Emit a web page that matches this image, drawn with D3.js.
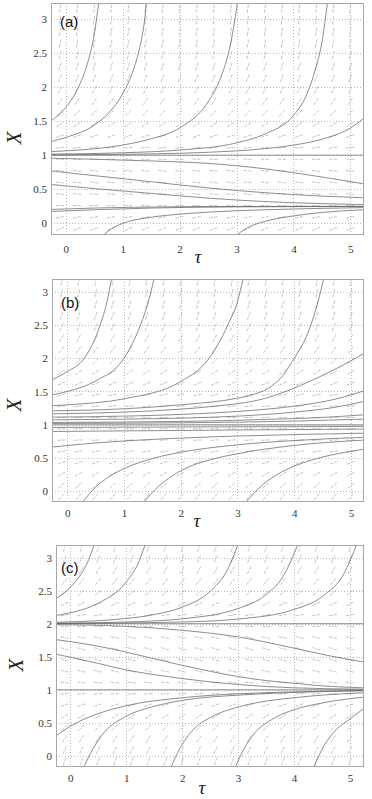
<!DOCTYPE html>
<html>
<head>
<meta charset="utf-8">
<script src="https://cdn.jsdelivr.net/npm/d3@7"></script>
<style>
  body { margin: 0; background: #fff; }
  svg { display: block; }
  .tick text { font-family: "Liberation Serif", "Times New Roman", serif; }
</style>
</head>
<body>
<div id="chart"></div>
<script>
// tick values and labels
const tauTicks = [0, 1, 2, 3, 4, 5];
const xTicks = [0, 0.5, 1, 1.5, 2, 2.5, 3];
const xTickLabels = ["0", "0.5", "1", "1.5", "2", "2.5", "3"];

// direction field grid (columns in tau, rows in X)
const fieldTau = [-0.1, 0.2, 0.5, 0.8, 1.1, 1.4, 1.7, 2.0, 2.3, 2.6, 2.9, 3.2, 3.5, 3.8, 4.1, 4.4, 4.7, 5.0];
const fieldX = [-0.08, 0.09, 0.26, 0.43, 0.6, 0.77, 0.94, 1.11, 1.28, 1.45, 1.62, 1.79, 1.96, 2.13, 2.3, 2.47, 2.64, 2.81, 2.98, 3.15];

// slope dX/dtau read for each row of the field
const slopesA = [0.36, 0.15, -0.01, -0.08, -0.1, -0.09, -0.03, 0.1, 0.29, 0.54, 0.85, 1.22, 1.64, 2.12, 2.67, 3.26, 3.92, 4.63, 5.4, 6.24];
const slopesB = [1.05, 0.75, 0.49, 0.29, 0.14, 0.05, 0.003, 0.011, 0.07, 0.18, 0.35, 0.56, 0.83, 1.15, 1.52, 1.94, 2.42, 2.95, 3.53, 4.16];
const slopesC = [2.25, 1.74, 1.29, 0.89, 0.56, 0.28, 0.06, -0.1, -0.2, -0.25, -0.24, -0.17, -0.04, 0.15, 0.39, 0.69, 1.05, 1.47, 1.94, 2.47];

// solution curves, [tau, X]
const curvesA = [
  [[-0.26, 1.5], [0, 1.7], [0.2, 1.96], [0.4, 2.4], [0.5, 2.77], [0.58, 3.25]],
  [[-0.26, 1.2], [0, 1.26], [0.5, 1.44], [0.8, 1.66], [1.0, 1.9], [1.2, 2.28], [1.3, 2.58], [1.38, 2.95], [1.42, 3.25]],
  [[-0.26, 1.052], [0, 1.063], [1, 1.148], [1.5, 1.24], [2, 1.4], [2.5, 1.78], [2.7, 2.09], [2.9, 2.65], [3.02, 3.25]],
  [[-0.26, 1.015], [1, 1.035], [2, 1.075], [3, 1.18], [3.5, 1.31], [4, 1.58], [4.2, 1.83], [4.4, 2.3], [4.5, 2.65], [4.6, 3.25]],
  [[-0.26, 1.005], [1, 1.013], [2, 1.028], [3, 1.063], [3.5, 1.095], [4, 1.147], [4.5, 1.234], [5, 1.397], [5.24, 1.54]],
  [[-0.26, 1.0], [5.24, 1.0]],
  [[-0.26, 0.955], [0.5, 0.94], [1.5, 0.915], [2.5, 0.88], [3.5, 0.8], [4.5, 0.68], [5.24, 0.58]],
  [[-0.26, 0.77], [0.5, 0.7], [1.5, 0.61], [2.5, 0.52], [3.5, 0.45], [4.5, 0.4], [5.24, 0.375]],
  [[-0.26, 0.57], [0.5, 0.51], [1.5, 0.44], [2.5, 0.37], [3.5, 0.32], [4.5, 0.29], [5.24, 0.275]],
  [[-0.26, 0.205], [0.5, 0.225], [1.5, 0.24], [3, 0.248], [5.24, 0.25]],
  [[-0.26, 0.175], [0.5, 0.2], [1.5, 0.225], [3, 0.242], [5.24, 0.248]],
  [[0.66, -0.17], [0.8, -0.08], [1, 0.0], [1.5, 0.09], [2, 0.135], [2.5, 0.165], [3.5, 0.2], [4.5, 0.22], [5.24, 0.232]],
  [[3.0, -0.17], [3.2, -0.06], [3.5, 0.03], [4, 0.11], [4.5, 0.16], [5.24, 0.2]]
];

const curvesB = [
  [[-0.27, 1.675], [0, 1.8], [0.3, 2.0], [0.58, 2.5], [0.7, 2.85], [0.78, 3.2]],
  [[-0.27, 1.45], [0, 1.5], [0.5, 1.66], [1, 2.0], [1.29, 2.5], [1.43, 2.85], [1.53, 3.2]],
  [[-0.27, 1.285], [0, 1.3], [1, 1.39], [2, 1.65], [2.5, 2.0], [2.83, 2.5], [3.0, 2.85], [3.1, 3.2]],
  [[-0.27, 1.21], [1, 1.24], [2, 1.3], [3, 1.4], [3.3, 1.46], [3.6, 1.58], [3.8, 1.74], [4, 2.0], [4.26, 2.42], [4.42, 2.85], [4.52, 3.2]],
  [[-0.27, 1.165], [1, 1.19], [2, 1.235], [2.55, 1.275], [3.5, 1.4], [4.32, 1.67], [4.8, 1.87], [5.23, 2.07]],
  [[-0.27, 1.115], [1, 1.13], [2, 1.155], [3, 1.2], [4, 1.28], [4.7, 1.38], [5.23, 1.51]],
  [[-0.27, 1.075], [1, 1.085], [2, 1.1], [3, 1.13], [4, 1.19], [4.7, 1.26], [5.23, 1.35]],
  [[-0.27, 1.035], [2, 1.05], [3.5, 1.08], [4.5, 1.11], [5.23, 1.15]],
  [[-0.27, 1.02], [2, 1.03], [4, 1.055], [5.23, 1.085]],
  [[-0.27, 1.0], [5.23, 1.0]],
  [[-0.27, 0.96], [2, 0.967], [5.23, 0.975]],
  [[-0.27, 0.9], [1, 0.908], [2, 0.915], [3, 0.922], [4, 0.928], [5.23, 0.935]],
  [[-0.27, 0.665], [0.5, 0.727], [1, 0.757], [2, 0.8], [3, 0.831], [4, 0.853], [5.23, 0.874]],
  [[0.27, -0.16], [0.5, 0.065], [0.75, 0.227], [1, 0.342], [1.5, 0.493], [2, 0.587], [3, 0.699], [4, 0.763], [5.23, 0.812]],
  [[1.35, -0.16], [1.6, 0.07], [1.85, 0.23], [2, 0.31], [2.5, 0.47], [3, 0.565], [4, 0.69], [5.23, 0.77]],
  [[3.15, -0.16], [3.4, 0.065], [3.65, 0.227], [3.9, 0.342], [4.4, 0.493], [4.9, 0.587], [5.23, 0.635]]
];

const curvesC = [
  [[-0.26, 2.38], [0, 2.55], [0.2, 2.76], [0.3, 2.91], [0.43, 3.2]],
  [[-0.26, 2.124], [0, 2.165], [0.5, 2.31], [1, 2.63], [1.2, 2.89], [1.34, 3.2]],
  [[-0.26, 2.0215], [1, 2.079], [1.5, 2.138], [2, 2.25], [2.5, 2.49], [2.8, 2.8], [3.0, 3.2]],
  [[-0.26, 2.0073], [1, 2.026], [2, 2.074], [3, 2.23], [3.5, 2.44], [3.8, 2.71], [4.07, 3.2]],
  [[-0.26, 2.0025], [2, 2.026], [3, 2.07], [4, 2.215], [4.5, 2.41], [4.9, 2.77], [5.12, 3.2]],
  [[-0.26, 2.0], [5.25, 2.0]],
  [[-0.26, 1.985], [1, 1.96], [2, 1.9], [3, 1.8], [4, 1.63], [4.6, 1.52], [5.25, 1.42]],
  [[-0.26, 1.76], [0.5, 1.66], [1, 1.57], [1.5, 1.47], [2, 1.37], [2.5, 1.28], [3, 1.2], [3.5, 1.14], [4, 1.1], [4.5, 1.06], [5.25, 1.03]],
  [[-0.26, 1.54], [0.5, 1.4], [1, 1.3], [1.5, 1.23], [2, 1.17], [2.5, 1.12], [3, 1.08], [3.5, 1.05], [4, 1.03], [5.25, 1.01]],
  [[-0.26, 1.0], [5.25, 1.0]],
  [[-0.26, 0.3], [0, 0.45], [0.5, 0.64], [1, 0.76], [2, 0.88], [3, 0.94], [4, 0.97], [5.25, 0.99]],
  [[0.24, -0.17], [0.4, 0.1], [0.6, 0.35], [1, 0.6], [1.5, 0.75], [2, 0.84], [3, 0.92], [4, 0.96], [5.25, 0.985]],
  [[1.8, -0.17], [1.95, 0.1], [2.2, 0.4], [2.5, 0.58], [3, 0.74], [3.5, 0.83], [4, 0.88], [4.5, 0.92], [5.25, 0.955]],
  [[2.95, -0.17], [3.1, 0.1], [3.3, 0.35], [3.6, 0.55], [4, 0.7], [4.5, 0.8], [5.25, 0.89]],
  [[4.35, -0.17], [4.5, 0.1], [4.7, 0.35], [5, 0.56], [5.25, 0.72]]
];

const W = 372, H = 799;
const serif = '"Liberation Serif", "Times New Roman", serif';

const svg = d3.select("#chart").append("svg")
  .attr("width", W)
  .attr("height", H)
  .attr("viewBox", [0, 0, W, H]);

const panels = [
  { id: "a", label: "(a)", curves: curvesA, slopes: slopesA,
    left: 51, right: 364, top: 3, bottom: 235,
    tauDomain: [-0.26, 5.24], xDomain: [-0.17, 3.23],
    tickPad: 10, tauPos: [198, 263], xLabel: [15, 138], labelPos: [60, 27] },
  { id: "b", label: "(b)", curves: curvesB, slopes: slopesB,
    left: 52, right: 364, top: 279, bottom: 502,
    tauDomain: [-0.27, 5.23], xDomain: [-0.16, 3.19],
    tickPad: 7, tauPos: [197, 527], xLabel: [15, 405], labelPos: [61, 308] },
  { id: "c", label: "(c)", curves: curvesC, slopes: slopesC,
    left: 56, right: 364, top: 545, bottom: 767,
    tauDomain: [-0.255, 5.25], xDomain: [-0.167, 3.19],
    tickPad: 7, tauPos: [202, 794], xLabel: [17, 665], labelPos: [61, 573] }
];

panels.forEach(p => {
  const x = d3.scaleLinear().domain(p.tauDomain).range([p.left, p.right]);
  const y = d3.scaleLinear().domain(p.xDomain).range([p.bottom, p.top]);
  const g = svg.append("g");

  g.append("clipPath")
      .attr("id", "clip-" + p.id)
    .append("rect")
      .attr("x", p.left)
      .attr("y", p.top)
      .attr("width", p.right - p.left)
      .attr("height", p.bottom - p.top);

  // grid
  g.append("g")
      .attr("stroke", "#a6a6a6")
      .attr("stroke-width", 0.8)
      .attr("stroke-dasharray", "1,2")
    .call(gg => gg.selectAll("line.v")
      .data(tauTicks)
      .join("line")
        .attr("class", "v")
        .attr("x1", d => Math.round(x(d)) + 0.5)
        .attr("x2", d => Math.round(x(d)) + 0.5)
        .attr("y1", p.top)
        .attr("y2", p.bottom))
    .call(gg => gg.selectAll("line.h")
      .data(xTicks)
      .join("line")
        .attr("class", "h")
        .attr("y1", d => Math.round(y(d)) + 0.5)
        .attr("y2", d => Math.round(y(d)) + 0.5)
        .attr("x1", p.left)
        .attr("x2", p.right));

  // direction field
  const kx = Math.abs(x(1) - x(0));
  const ky = Math.abs(y(1) - y(0));
  const half = 4.3;
  const field = [];
  fieldX.forEach((xv, i) => {
    fieldTau.forEach(tv => {
      let dx = kx, dy = -p.slopes[i] * ky;
      const n = Math.hypot(dx, dy);
      dx = dx / n * half; dy = dy / n * half;
      const cx = x(tv), cy = y(xv);
      field.push([cx - dx, cy - dy, cx + dx, cy + dy]);
    });
  });
  g.append("g")
      .attr("clip-path", `url(#clip-${p.id})`)
      .attr("stroke", "#bdbdbd")
      .attr("stroke-width", 0.9)
      .attr("stroke-dasharray", "3.5,1.2")
    .selectAll("line")
    .data(field)
    .join("line")
      .attr("x1", d => d[0])
      .attr("y1", d => d[1])
      .attr("x2", d => d[2])
      .attr("y2", d => d[3]);

  // solution curves
  const line = d3.line()
    .x(d => x(d[0]))
    .y(d => y(d[1]))
    .curve(d3.curveMonotoneX);

  g.append("g")
      .attr("clip-path", `url(#clip-${p.id})`)
      .attr("fill", "none")
      .attr("stroke", "#5c5c5c")
      .attr("stroke-width", 0.7)
    .selectAll("path")
    .data(p.curves)
    .join("path")
      .attr("d", line);

  // frame
  g.append("rect")
      .attr("x", p.left + 0.5)
      .attr("y", p.top + 0.5)
      .attr("width", p.right - p.left - 1)
      .attr("height", p.bottom - p.top - 1)
      .attr("fill", "none")
      .attr("stroke", "#a8a8a8")
      .attr("stroke-width", 1);

  // axes
  g.append("g")
      .attr("transform", `translate(${p.left},0)`)
      .call(d3.axisLeft(y).tickValues(xTicks).tickFormat((d, i) => xTickLabels[i]).tickSize(0).tickPadding(4))
      .call(a => a.select(".domain").remove())
      .call(a => a.selectAll("text")
        .style("font-family", serif)
        .style("font-size", "11px")
        .attr("fill", "#333"));

  g.append("g")
      .attr("transform", `translate(0,${p.bottom})`)
      .call(d3.axisBottom(x).tickValues(tauTicks).tickFormat(d3.format("d")).tickSize(0).tickPadding(p.tickPad))
      .call(a => a.select(".domain").remove())
      .call(a => a.selectAll("text")
        .style("font-family", serif)
        .style("font-size", "11px")
        .attr("fill", "#333"));

  // axis titles
  g.append("text")
      .attr("transform", `translate(${p.xLabel[0] + 6},${p.xLabel[1]}) rotate(-90)`)
      .attr("text-anchor", "middle")
      .style("font-family", serif)
      .style("font-style", "italic")
      .style("font-size", "21px")
      .attr("fill", "#222")
      .text("X");

  g.append("text")
      .attr("x", p.tauPos[0])
      .attr("y", p.tauPos[1])
      .attr("text-anchor", "middle")
      .style("font-family", serif)
      .style("font-style", "italic")
      .style("font-size", "19px")
      .attr("fill", "#222")
      .text("τ");

  g.append("text")
      .attr("x", p.labelPos[0])
      .attr("y", p.labelPos[1])
      .style("font-family", '"Liberation Sans", Arial, sans-serif')
      .style("font-size", "15px")
      .attr("fill", "#111")
      .text(p.label);
});
</script>
</body>
</html>
